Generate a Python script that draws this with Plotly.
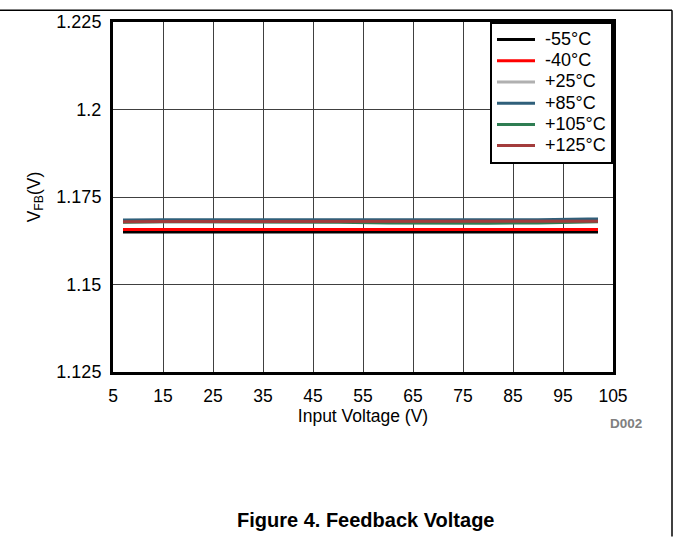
import plotly.graph_objects as go

# Input voltage sweep (V)
vin = [7, 10, 15, 20, 30, 40, 50, 60, 70, 80, 90, 100, 102]

# Feedback voltage (V) per ambient temperature
vfb_m55 = [1.1650, 1.1650, 1.1651, 1.1651, 1.1651, 1.1651, 1.1651, 1.1650, 1.1650, 1.1650, 1.1650, 1.1650, 1.1650]
vfb_m40 = [1.1657, 1.1657, 1.1658, 1.1658, 1.1658, 1.1658, 1.1658, 1.1657, 1.1657, 1.1657, 1.1657, 1.1657, 1.1657]
vfb_25 = [1.1679, 1.1679, 1.1680, 1.1680, 1.1680, 1.1680, 1.1680, 1.1679, 1.1679, 1.1679, 1.1679, 1.1680, 1.1680]
vfb_85 = [1.1684, 1.1685, 1.1685, 1.1685, 1.1685, 1.1685, 1.1685, 1.1685, 1.1684, 1.1684, 1.1685, 1.1687, 1.1687]
vfb_105 = [1.1678, 1.1679, 1.1679, 1.1679, 1.1679, 1.1679, 1.1678, 1.1676, 1.1675, 1.1675, 1.1676, 1.1678, 1.1679]
vfb_125 = [1.1679, 1.1680, 1.1680, 1.1680, 1.1680, 1.1680, 1.1680, 1.1680, 1.1679, 1.1679, 1.1680, 1.1681, 1.1681]

series = [
    ("-55°C", vfb_m55, "#000000"),
    ("-40°C", vfb_m40, "#ff0000"),
    ("+25°C", vfb_25, "#b0b0b0"),
    ("+85°C", vfb_85, "#2f5f7a"),
    ("+105°C", vfb_105, "#2e7d52"),
    ("+125°C", vfb_125, "#a33c3c"),
]

x_ticks = [5, 15, 25, 35, 45, 55, 65, 75, 85, 95, 105]
y_ticks = [1.125, 1.15, 1.175, 1.2, 1.225]
y_tick_text = ["1.125", "1.15", "1.175", "1.2", "1.225"]

FONT = "Liberation Sans, Arial, sans-serif"
LEGEND_TEXT = '<span style="font-size:18px">\u00a0{}</span>'

fig = go.Figure()
for name, vals, color in series:
    fig.add_trace(go.Scatter(x=vin, y=vals, mode="lines", name=LEGEND_TEXT.format(name),
                             line=dict(color=color, width=3)))

fig.update_layout(
    width=674, height=537,
    margin=dict(l=113, r=61, t=17, b=165),
    paper_bgcolor="white", plot_bgcolor="white",
    font=dict(family=FONT, size=18, color="black"),
    showlegend=True,
    legend=dict(
        x=1, xanchor="right", y=1, yanchor="top",
        bgcolor="white", bordercolor="black", borderwidth=2,
        font=dict(size=14), itemwidth=38, tracegroupgap=0,
    ),
    xaxis=dict(
        range=[5, 105], tickvals=x_ticks, showgrid=True, gridcolor="#404040", gridwidth=1,
        showline=True, linecolor="black", linewidth=3, mirror=True, zeroline=False,
        ticks="", tickfont=dict(size=17.5), ticklabelstandoff=6,
        title=dict(text="Input Voltage (V)", font=dict(size=17.5), standoff=4),
    ),
    yaxis=dict(
        range=[1.125, 1.225], tickvals=y_ticks, ticktext=y_tick_text,
        showgrid=True, gridcolor="#404040", gridwidth=1,
        showline=True, linecolor="black", linewidth=3, mirror=True, zeroline=False,
        ticks="", tickfont=dict(size=18), ticklabelstandoff=5,
        title=dict(text="V<sub>FB</sub>(V)", font=dict(size=17.5), standoff=12),
    ),
    annotations=[
        dict(text="<b>D002</b>", xref="paper", yref="paper", x=1.062, y=-0.147,
             xanchor="right", yanchor="middle", showarrow=False,
             font=dict(size=13.5, color="#808080")),
        dict(text="<b>Figure 4. Feedback Voltage</b>", xref="paper", yref="paper",
             x=0.504, y=-0.423, xanchor="center", yanchor="middle", showarrow=False,
             font=dict(size=20, color="black")),
    ],
    shapes=[
        dict(type="line", xref="paper", yref="paper", x0=-0.23, x1=1.118, y0=1.0338, y1=1.0338,
             line=dict(color="black", width=1.5)),
        dict(type="line", xref="paper", yref="paper", x0=1.118, x1=1.118, y0=1.0338, y1=-0.47,
             line=dict(color="black", width=1.5)),
    ],
)

fig.write_html("out.html")
